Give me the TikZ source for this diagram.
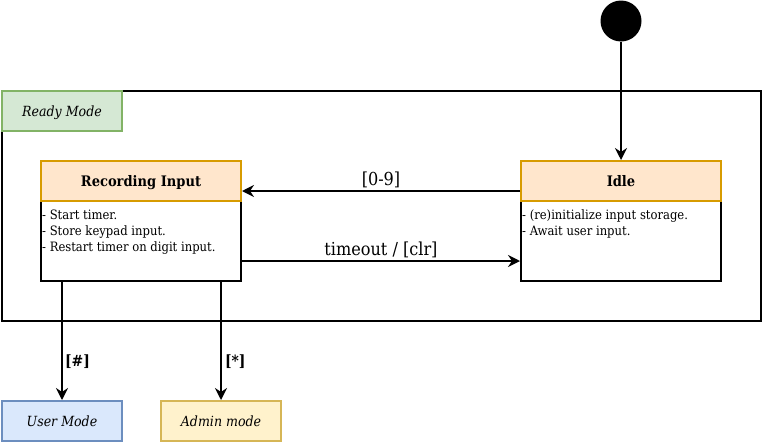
\documentclass[tikz,border=0pt]{standalone}
\usepackage{fontspec}
\setmainfont{DejaVu Serif Condensed}
\usetikzlibrary{arrows.meta}
\definecolor{hdrfill}{HTML}{FFE6CC}
\definecolor{hdrline}{HTML}{D79B00}
\definecolor{grnfill}{HTML}{D5E8D4}
\definecolor{grnline}{HTML}{82B366}
\definecolor{bluefill}{HTML}{DAE8FC}
\definecolor{blueline}{HTML}{6C8EBF}
\definecolor{yelfill}{HTML}{FFF2CC}
\definecolor{yelline}{HTML}{D6B656}
\newcommand{\bodylines}[1]{\parbox[t]{195pt}{\fontsize{12.9}{16}\selectfont\raggedright #1}}
\begin{document}
\begin{tikzpicture}[x=1pt,y=-1pt,
  lw/.style={line width=2pt},
  hdr/.style={lw,draw=hdrline,fill=hdrfill,minimum width=200pt,minimum height=40pt,inner sep=0pt,text height=10pt,text depth=0pt,font=\fontsize{14.5}{17}\selectfont\bfseries},
  bodybox/.style={lw,draw=black,fill=white,minimum width=200pt,minimum height=80pt,inner sep=0pt},
  bodytext/.style={anchor=base west,inner sep=0pt},
  modebox/.style={lw,minimum width=120pt,minimum height=40pt,inner sep=0pt,text height=10pt,text depth=0pt,font=\fontsize{14}{16}\selectfont\itshape},
  conn/.style={lw,-{Stealth[length=12pt,width=12pt,inset=4pt]}},
  lbl/.style={font=\fontsize{17.9}{20}\selectfont,inner sep=1pt},
  blbl/.style={font=\fontsize{15.5}{18}\selectfont\bfseries,inner sep=0pt}
]
\useasboundingbox (0,0) rectangle (762,442);
% outer frame
\node[lw,draw=black,minimum width=759pt,minimum height=230pt,inner sep=0pt] (frame) at (381.5,206) {};
\node[modebox,draw=grnline,fill=grnfill] (ready) at (62,111) {Ready Mode};
% initial state
\node[circle,fill=black,minimum size=41pt,inner sep=0pt] (init) at (621,21) {};
% Recording Input
\node[bodybox] (recb) at (141,241) {};
\node[hdr] (rec) at (141,181) {Recording Input};
\node[bodytext] (rect) at ([xshift=2pt,yshift=-19.5pt]recb.north west) {\bodylines{- Start timer.\\- Store keypad input.\\- Restart timer on digit input.}};
% Idle
\node[bodybox] (idleb) at (621,241) {};
\node[hdr] (idle) at (621,181) {Idle};
\node[bodytext] (idlet) at ([xshift=2pt,yshift=-19.5pt]idleb.north west) {\bodylines{- (re)initialize input storage.\\- Await user input.}};
% modes
\node[modebox,draw=blueline,fill=bluefill] (user) at (62,421) {User Mode};
\node[modebox,draw=yelline,fill=yelfill] (admin) at (221,421) {Admin mode};
% connectors
\draw[conn] (init) -- (idle.north);
\draw[conn] ([yshift=-10pt]idle.west) -- node[lbl,above=1pt] {[0-9]} ([yshift=-10pt]rec.east);
\draw[conn] ([yshift=-20pt]recb.east) -- node[lbl,above=1pt] {timeout / [clr]} ([yshift=-20pt]idleb.west);
\coordinate (ua) at (62,281);
\coordinate (aa) at (221,281);
\draw[conn] (ua) -- node[blbl,right=2pt,pos=0.68] {[\#]} (user.north);
\draw[conn] (aa) -- node[blbl,right=3pt,pos=0.68] {[*]} (admin.north);
\end{tikzpicture}
\end{document}
